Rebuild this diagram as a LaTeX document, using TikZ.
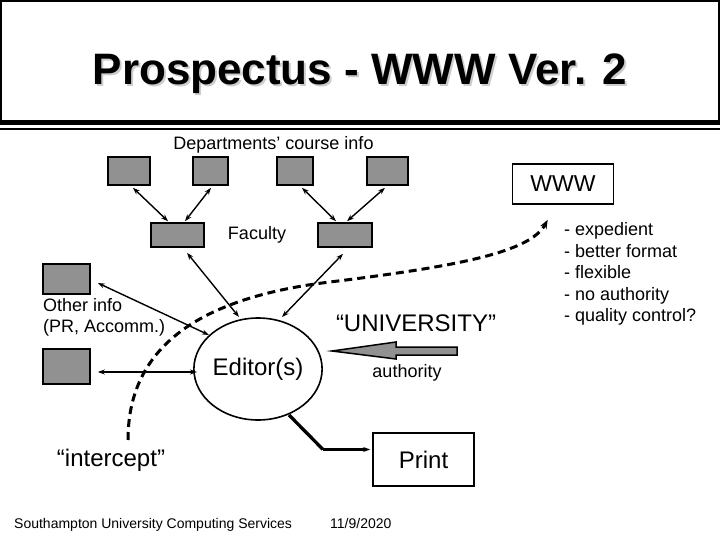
\documentclass[tikz,border=0pt]{standalone}
\usepackage{fontspec}
\setmainfont{Liberation Sans}
\usetikzlibrary{arrows.meta,shapes.geometric,calc}
\definecolor{boxgray}{RGB}{145,145,145}
\definecolor{shadowgray}{RGB}{205,205,205}
\begin{document}
\begin{tikzpicture}[x=1pt,y=-1pt,
  gbox/.style={draw=black,fill=boxgray,line width=1.6pt,inner sep=0pt},
  wbox/.style={draw=black,fill=white,line width=1.6pt,inner sep=0pt},
  link/.style={line width=1.4pt,{Stealth[length=7pt,width=5pt]}-{Stealth[length=7pt,width=5pt]}},
  txts/.style={font=\fontsize{14}{16}\selectfont,inner sep=0pt},
  txtm/.style={font=\fontsize{18}{21.5}\selectfont,inner sep=0pt},
  txtl/.style={font=\fontsize{24}{28}\selectfont,inner sep=0pt},
  titlefont/.style={font=\fontsize{44}{50}\selectfont\bfseries,inner sep=0pt}
]
\useasboundingbox (0,0) rectangle (720,540);
% title area
\draw[line width=2pt] (1,1) rectangle (719,122);
\draw[line width=5pt] (0,122.5) -- (720,122.5);
\draw[line width=2pt] (0,129) -- (720,129);
\node[titlefont,text=shadowgray,anchor=base] (titleshadow) at (362,87) {Prospectus - WWW Ver. 2};
\node[titlefont,anchor=base] (title) at (360,85) {Prospectus - WWW Ver. 2};

% labels
\node[txtm,anchor=base] (deptlabel) at (273.5,149.5) {Departments’ course info};
\node[txtm] (faclabel) at (257,235) {Faculty};
\node[txtm,align=left,anchor=west] (otherlabel) at (43,317.5) {Other info\\(PR, Accomm.)};
\node[txtl] (univ) at (416,323) {“UNIVERSITY”};
\node[txtm] (authlabel) at (407,373) {authority};
\node[txtl] (intercept) at (111,460) {“intercept”};
\node[txtm,align=left,anchor=west] (bullets) at (564,274) {- expedient\\- better format\\- flexible\\- no authority\\- quality control?};
\node[txts,anchor=base west] (footer) at (14,528) {Southampton University Computing Services};
\node[txts,anchor=base west] (date) at (330,528) {11/9/2020};

% boxes
\node[gbox,minimum width=42pt,minimum height=28pt] (d1) at (129,171) {};
\node[gbox,minimum width=35pt,minimum height=28pt] (d2) at (210.5,171) {};
\node[gbox,minimum width=36pt,minimum height=28pt] (d3) at (295,171) {};
\node[gbox,minimum width=41pt,minimum height=28pt] (d4) at (387.5,171) {};
\node[gbox,minimum width=53pt,minimum height=24pt] (f1) at (177.5,235) {};
\node[gbox,minimum width=54pt,minimum height=24pt] (f2) at (345,235) {};
\node[gbox,minimum width=47pt,minimum height=30pt] (o1) at (66.5,279) {};
\node[gbox,minimum width=47pt,minimum height=35pt] (o2) at (66.5,366.5) {};
\node[draw=black,line width=1.6pt,ellipse,minimum width=108pt,minimum height=102pt,inner sep=0pt,font=\fontsize{24}{28}\selectfont] (editor) at (258,369) {Editor(s)};
\node[wbox,minimum width=101pt,minimum height=40pt,font=\fontsize{23}{28}\selectfont] (www) at (563,184) {WWW};
\node[wbox,minimum width=101pt,minimum height=53pt,font=\fontsize{24}{28}\selectfont] (print) at (423.5,459.5) {Print};

% department -> faculty links
\draw[link] ([shift={(4,2)}]d1.south) -- ([shift={(-9.5,-1)}]f1.north);
\draw[link] ([shift={(0.5,2)}]d2.south) -- ([shift={(7.5,-1)}]f1.north);
\draw[link] ([shift={(7,2)}]d3.south) -- ([shift={(-9,-1)}]f2.north);
\draw[link] ([shift={(-2.5,2)}]d4.south) -- ([shift={(2,-1)}]f2.north);

% faculty/other -> editor links
\draw[link] ([shift={(9.5,5)}]f1.south) -- ([shift={(-19,-52)}]editor.center);
\draw[link] ([shift={(-2,6)}]f2.south) -- ([shift={(24,-52)}]editor.center);
\draw[link] ([shift={(7,4)}]o1.east) -- ([shift={(-49,-34)}]editor.center);
\draw[link] ([shift={(7,5.5)}]o2.east) -- ([shift={(-61,3)}]editor.center);

% print connector
\coordinate (bend) at (323,449.5);
\draw[line width=3.3pt] ([shift={(31,46)}]editor.center) -- (bend);
\draw[line width=2.2pt,-{Stealth[length=7pt,width=5pt]}] (bend) -- ([shift={(-2,-10)}]print.west);

% authority arrow
\coordinate (authtip) at (332,351);
\draw[line width=1.5pt,fill=boxgray] (authtip) -- (396,342) -- (396,347) -- (457,347) -- (457,355) -- (396,355) -- (396,359) -- cycle;

% intercept dashed curve
\coordinate (icp) at (128,440);
\coordinate (imid) at (330,282);
\draw[line width=3pt,dash pattern=on 8pt off 5pt,-{Stealth[length=9pt,width=7pt]}]
  (icp) .. controls (128,360) and (180,300) .. (imid)
        .. controls (460,266) and (530,252) .. ([shift={(36,15)}]www.south west);
\end{tikzpicture}
\end{document}
